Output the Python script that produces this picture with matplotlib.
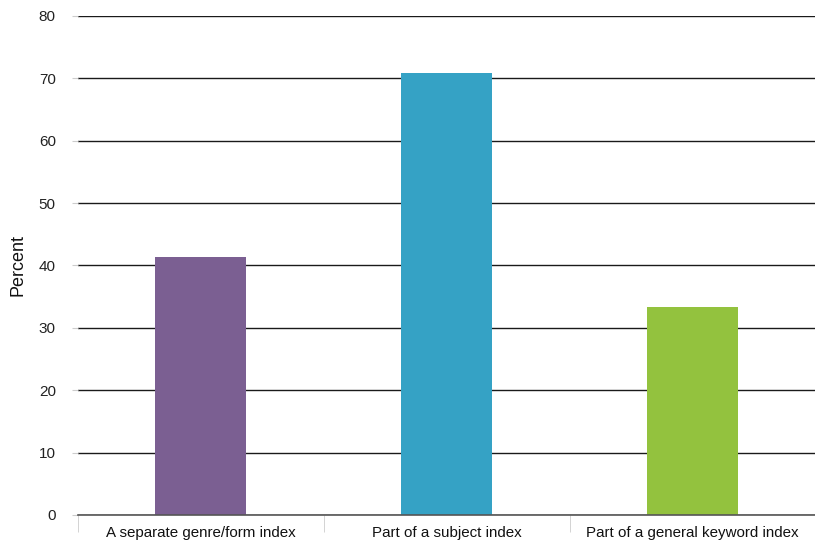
import matplotlib
matplotlib.use('Agg')
import matplotlib.pyplot as plt
import numpy as np

plt.rcParams['font.family'] = ['Liberation Sans', 'DejaVu Sans']

categories = ['A separate genre/form index', 'Part of a subject index', 'Part of a general keyword index']
percent = [41.4, 70.8, 33.3]
colors = ['#7B5F92', '#35A2C5', '#93C23E']
yticks = [0, 10, 20, 30, 40, 50, 60, 70, 80]

fig = plt.figure(figsize=(8.15, 5.46), dpi=100)
ax = fig.add_axes([0.0957, 0.0568, 0.905, 0.914])

x = np.arange(len(categories))
ax.bar(x, percent, width=0.37, color=colors, zorder=3)

ax.set_xlim(-0.5, len(categories) - 0.5)
ax.set_ylim(0, 80)
ax.set_yticks(yticks)
ax.set_yticklabels([str(t) for t in yticks], fontsize=11, color='#222222')
ax.yaxis.grid(True, color='#1a1a1a', linewidth=1.0, zorder=0)
ax.tick_params(axis='y', length=4, color='#cccccc', pad=12)

ax.set_xticks(x)
ax.set_xticklabels(categories, fontsize=10.9, color='#111111')
ax.tick_params(axis='x', length=0, pad=8)
# divider ticks between categories
ax.set_xticks(np.arange(len(categories) + 1) - 0.5, minor=True)
ax.tick_params(axis='x', which='minor', length=12, color='#cccccc', direction='out')

for s in ['top', 'right', 'left']:
    ax.spines[s].set_visible(False)
ax.spines['bottom'].set_color('#555555')
ax.spines['bottom'].set_linewidth(1.2)
ax.spines['bottom'].set_zorder(4)

ax.set_ylabel('Percent', fontsize=13, color='#111111', labelpad=9)

fig.savefig('out.png', dpi=100)
